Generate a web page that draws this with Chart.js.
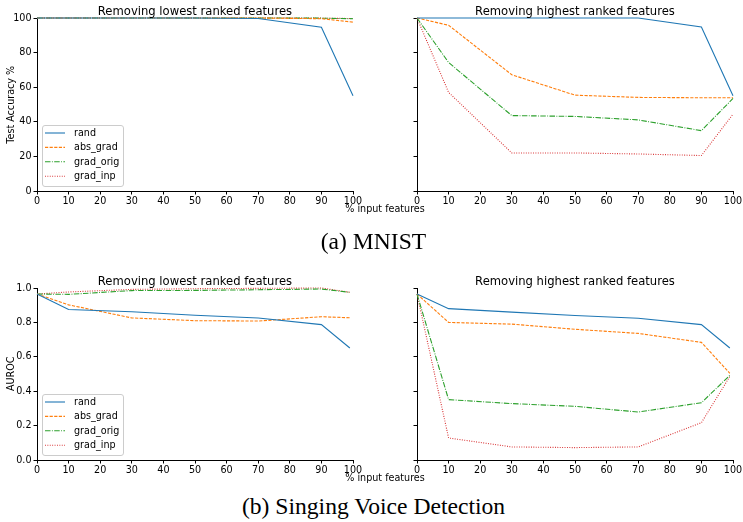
<!DOCTYPE html>
<html>
<head>
<meta charset="utf-8">
<script src="https://cdn.jsdelivr.net/npm/chart.js@4/dist/chart.umd.min.js"></script>
<style>
  html, body { margin: 0; padding: 0; background: #fff; overflow: hidden; }
  body { width: 743px; height: 522px; position: relative; }
  canvas { position: absolute; }
  .txt { position: absolute; white-space: nowrap; line-height: 1; color: #000; font-family: "DejaVu Sans", sans-serif; }
  .title { font-size: 11.6px; width: 300px; text-align: center; }
  .xlabel { font-size: 9.6px; width: 200px; text-align: center; }
  .ylabel { font-size: 9.6px; width: 200px; text-align: center; transform: rotate(-90deg); }
  .caption { font-family: "Liberation Serif", "Times New Roman", serif; font-size: 23.6px; left: 0; width: 747px; text-align: center; }
</style>
</head>
<body>
<canvas id="mnistLow"></canvas>
<canvas id="mnistHigh"></canvas>
<canvas id="svdLow"></canvas>
<canvas id="svdHigh"></canvas>

<div class="txt title" style="left:45px; top:5.9px;">Removing lowest ranked features</div>
<div class="txt title" style="left:425px; top:5.9px;">Removing highest ranked features</div>
<div class="txt title" style="left:45px; top:275.9px;">Removing lowest ranked features</div>
<div class="txt title" style="left:425px; top:275.9px;">Removing highest ranked features</div>

<div class="txt xlabel" style="left:285px; top:203.6px;">% input features</div>
<div class="txt xlabel" style="left:285px; top:472.6px;">% input features</div>

<div class="txt ylabel" style="left:-89px; top:99.7px;">Test Accuracy %</div>
<div class="txt ylabel" style="left:-89px; top:369.2px;">AUROC</div>

<div class="txt caption" style="top:229.7px;">(a) MNIST</div>
<div class="txt caption" style="top:495.2px;">(b) Singing Voice Detection</div>

<script>
// Data
const seriesLabels = ["rand", "abs_grad", "grad_orig", "grad_inp"];
const xTicks = [0, 10, 20, 30, 40, 50, 60, 70, 80, 90, 100];
const yTicksMnist = [0, 20, 40, 60, 80, 100];
const yTicksSvd = [0, 0.2, 0.4, 0.6, 0.8, 1.0];

const xMnist = [0, 10, 30, 50, 70, 90, 100];
const xSvd = [0, 10, 30, 50, 70, 90, 99];

// MNIST, removing lowest ranked features
const mnistLowRand = [100, 100, 100, 100, 99.7, 94.7, 55];
const mnistLowAbsGrad = [100, 100, 100, 100, 100, 99.6, 97.6];
const mnistLowGradOrig = [100, 100, 100, 100, 100, 99.9, 99.6];
const mnistLowGradInp = [100, 100, 100, 100, 100, 99.9, 99.7];

// MNIST, removing highest ranked features
const mnistHighRand = [100, 100, 100, 100, 100, 94.8, 55];
const mnistHighAbsGrad = [100, 95.8, 67.2, 55.4, 54.1, 53.9, 53.9];
const mnistHighGradOrig = [100, 74.3, 43.6, 43.1, 41.1, 34.9, 53.5];
const mnistHighGradInp = [100, 57, 22, 22, 21.4, 20.5, 44.4];

// Singing voice detection, removing lowest ranked features
const svdLowRand = [0.965, 0.875, 0.862, 0.842, 0.826, 0.787, 0.651];
const svdLowAbsGrad = [0.965, 0.902, 0.826, 0.81, 0.808, 0.833, 0.827];
const svdLowGradOrig = [0.965, 0.963, 0.985, 0.986, 0.99, 0.994, 0.975];
const svdLowGradInp = [0.965, 0.977, 0.992, 0.996, 0.998, 1.0, 0.975];

// Singing voice detection, removing highest ranked features
const svdHighRand = [0.965, 0.88, 0.86, 0.84, 0.824, 0.787, 0.651];
const svdHighAbsGrad = [0.965, 0.8, 0.79, 0.76, 0.736, 0.684, 0.504];
const svdHighGradOrig = [0.965, 0.351, 0.328, 0.312, 0.279, 0.333, 0.492];
const svdHighGradInp = [0.965, 0.128, 0.076, 0.072, 0.076, 0.217, 0.486];

// Styles (matplotlib tab10 + line styles)
const COLORS = ["#1f77b4", "#ff7f0e", "#2ca02c", "#d62728"];
const DASHES = [[], [3.2, 1.4], [5.5, 1.4, 0.9, 1.4], [0.9, 1.5]];
const LINE_WIDTH = 1.1;
const TICK_FONT = { family: "DejaVu Sans", size: 9.6 };

// draws the matplotlib style legend box in the lower left of the axes
const legendBox = {
  id: "legendBox",
  afterDatasetsDraw(chart, args, opts) {
    if (!opts.show) return;
    const ctx = chart.ctx;
    const area = chart.chartArea;
    const w = 81, h = 61;
    const x = area.left + 5;
    const y = area.bottom - 5 - h;

    ctx.save();
    ctx.beginPath();
    ctx.roundRect(x + 0.5, y + 0.5, w, h, 2.5);
    ctx.fillStyle = "rgba(255,255,255,0.8)";
    ctx.fill();
    ctx.strokeStyle = "#cccccc";
    ctx.lineWidth = 1;
    ctx.stroke();

    chart.data.datasets.forEach((ds, i) => {
      const ly = y + 8 + i * 14.4;
      ctx.beginPath();
      ctx.setLineDash(ds.borderDash || []);
      ctx.strokeStyle = ds.borderColor;
      ctx.lineWidth = ds.borderWidth;
      ctx.moveTo(x + 3, ly);
      ctx.lineTo(x + 23, ly);
      ctx.stroke();
      ctx.setLineDash([]);
      ctx.fillStyle = "#000";
      ctx.font = "9.6px 'DejaVu Sans'";
      ctx.textBaseline = "middle";
      ctx.fillText(ds.label, x + 32, ly + 0.5);
    });
    ctx.restore();
  }
};

const buildDatasets = (xs, seriesList) => {
  return seriesList.map((vals, i) => ({
    label: seriesLabels[i],
    data: xs.map((x, j) => ({ x: x, y: vals[j] })),
    borderColor: COLORS[i],
    borderWidth: LINE_WIDTH,
    borderDash: DASHES[i],
    pointRadius: 0,
    tension: 0,
    fill: false,
    clip: false
  }));
};

// area = chart area in page pixels
const makePanel = (id, area, xs, seriesList, yTicks, yDigits, showYLabels, showLegend) => {
  const padL = 40, padT = 20, padR = 20, padB = 22;
  const canvas = document.getElementById(id);
  const w = area.right - area.left + padL + padR;
  const h = area.bottom - area.top + padT + padB;
  canvas.width = w;
  canvas.height = h;
  canvas.style.width = w + "px";
  canvas.style.height = h + "px";
  canvas.style.left = (area.left - padL) + "px";
  canvas.style.top = (area.top - padT) + "px";

  const axisGrid = { display: true, drawOnChartArea: false, drawTicks: true, tickLength: 3.5, color: "#000", lineWidth: 1 };
  const axisBorder = { display: true, color: "#000", width: 1 };

  return new Chart(canvas.getContext("2d"), {
    type: "line",
    data: { datasets: buildDatasets(xs, seriesList) },
    options: {
      responsive: false,
      animation: false,
      devicePixelRatio: 1,
      layout: { padding: { top: padT, right: padR, left: 0, bottom: 0 } },
      plugins: {
        legend: { display: false },
        tooltip: { enabled: false },
        legendBox: { show: showLegend }
      },
      scales: {
        x: {
          type: "linear",
          min: xTicks[0],
          max: xTicks[xTicks.length - 1],
          afterFit: (s) => { s.height = padB; },
          afterBuildTicks: (s) => { s.ticks = xTicks.map(v => ({ value: v })); },
          ticks: { color: "#000", font: TICK_FONT, padding: 1.5, maxRotation: 0, autoSkip: false },
          grid: axisGrid,
          border: axisBorder
        },
        y: {
          type: "linear",
          min: yTicks[0],
          max: yTicks[yTicks.length - 1],
          afterFit: (s) => { s.width = padL; },
          afterBuildTicks: (s) => { s.ticks = yTicks.map(v => ({ value: v })); },
          ticks: {
            display: showYLabels,
            color: "#000",
            font: TICK_FONT,
            padding: 2,
            callback: (v) => Number(v).toFixed(yDigits)
          },
          grid: axisGrid,
          border: axisBorder
        }
      }
    },
    plugins: [legendBox]
  });
};

const setup = () => {
  makePanel("mnistLow", { left: 37, top: 18, right: 353, bottom: 191 }, xMnist,
    [mnistLowRand, mnistLowAbsGrad, mnistLowGradOrig, mnistLowGradInp], yTicksMnist, 0, true, true);
  makePanel("mnistHigh", { left: 417, top: 18, right: 733, bottom: 191 }, xMnist,
    [mnistHighRand, mnistHighAbsGrad, mnistHighGradOrig, mnistHighGradInp], yTicksMnist, 0, false, false);
  makePanel("svdLow", { left: 37, top: 288, right: 353, bottom: 460 }, xSvd,
    [svdLowRand, svdLowAbsGrad, svdLowGradOrig, svdLowGradInp], yTicksSvd, 1, true, true);
  makePanel("svdHigh", { left: 417, top: 288, right: 733, bottom: 460 }, xSvd,
    [svdHighRand, svdHighAbsGrad, svdHighGradOrig, svdHighGradInp], yTicksSvd, 1, false, false);
};

window.addEventListener("load", setup);
</script>
</body>
</html>
